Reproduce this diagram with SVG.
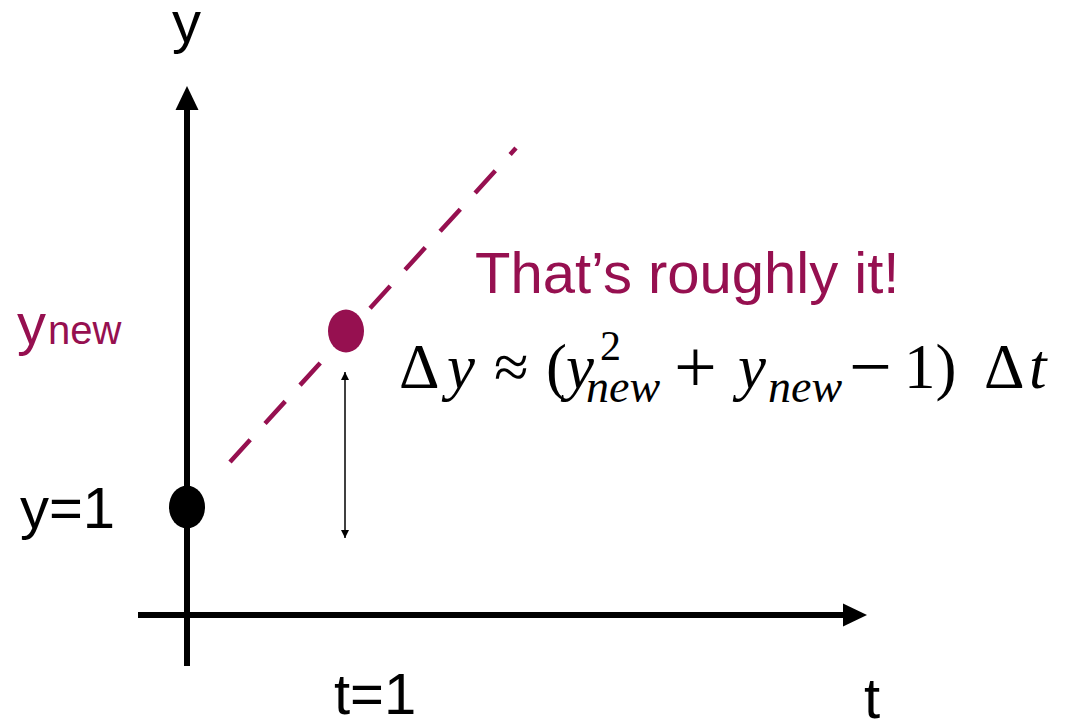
<svg xmlns="http://www.w3.org/2000/svg" width="1070" height="722" viewBox="0 0 1070 722">
<defs>
<style>
.lbl{font-family:"Liberation Sans",Arial,sans-serif;font-size:58px;fill:#000}
.mag{fill:#961050}
.math{font-family:"Liberation Serif","Times New Roman",serif;font-size:63px;fill:#000}
.it{font-style:italic}
.sub{font-style:italic;font-size:46px}
.op{font-size:76px}
.ax{stroke:#000;stroke-width:6;fill:none}
</style>
<marker id="ah" viewBox="0 0 10 10" refX="10" refY="5" markerWidth="8" markerHeight="8" orient="auto-start-reverse" markerUnits="userSpaceOnUse"><path d="M0,0 L10,5 L0,10 z" fill="#000"/></marker>
</defs>
<rect width="1070" height="722" fill="#fff"/>
<g id="connectors">
<line class="ax" x1="187" y1="666" x2="187" y2="106"/>
<polygon points="187,86 175.5,110 198.5,110" fill="#000"/>
<line class="ax" x1="138" y1="615" x2="846" y2="615"/>
<polygon points="867,615 843,603.5 843,626.5" fill="#000"/>
<line x1="230" y1="462" x2="516" y2="148" stroke="#961050" stroke-width="4.5" stroke-dasharray="30,22"/>
<line x1="345" y1="372" x2="345" y2="538" stroke="#000" stroke-width="1.5" marker-start="url(#ah)" marker-end="url(#ah)"/>
</g>
<g id="node-y1"><ellipse cx="187" cy="507" rx="18" ry="21.5" fill="#000"/></g>
<g id="node-ynew"><ellipse cx="346" cy="331" rx="18" ry="21.5" fill="#961050"/></g>
<g id="labels">
<text class="lbl" x="172" y="42" font-size="56">y</text>
<text class="lbl" x="864" y="718">t</text>
<text class="lbl" x="334" y="714" font-size="57">t=1</text>
<text class="lbl" x="20" y="528">y=1</text>
<text class="lbl mag" x="17" y="344" font-size="56">y<tspan font-size="40" dx="2">new</tspan></text>
<text class="lbl mag" x="475" y="293">That’s roughly it!</text>
<text class="math">
<tspan x="399" y="388">Δ</tspan>
<tspan class="it" x="447" y="388">y</tspan>
<tspan x="494" y="388">≈</tspan>
<tspan x="546" y="388">(</tspan>
<tspan class="it" x="566" y="388">y</tspan>
<tspan x="600" y="360" font-size="42">2</tspan>
<tspan class="sub" x="586" y="402">new</tspan>
<tspan class="op" x="674" y="392">+</tspan>
<tspan class="it" x="738" y="388">y</tspan>
<tspan class="sub" x="768" y="402">new</tspan>
<tspan class="op" x="849" y="392">−</tspan>
<tspan x="904" y="388">1)</tspan>
<tspan x="984" y="388">Δ</tspan>
<tspan class="it" x="1029" y="388">t</tspan>
</text>
</g>
</svg>
